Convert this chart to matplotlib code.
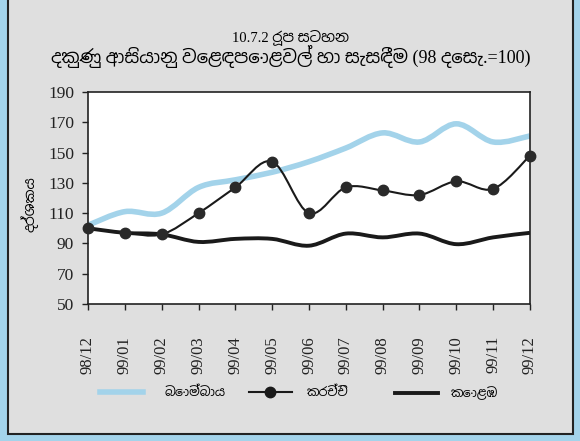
import numpy as np
import matplotlib
matplotlib.use("Agg")
import matplotlib.pyplot as plt
from matplotlib import font_manager
from matplotlib.path import Path
from matplotlib.patches import PathPatch, Rectangle
from matplotlib.lines import Line2D

# months and index values (Dec 1998 = 100)
months = ["98/12", "99/01", "99/02", "99/03", "99/04", "99/05", "99/06",
          "99/07", "99/08", "99/09", "99/10", "99/11", "99/12"]
bombay = [102, 111, 110, 127, 132, 137, 144, 153, 163, 157, 169, 157, 161]
karachi = [100, 97, 96, 110, 127, 144, 110, 127, 125, 122, 131, 126, 148]
colombo = [100, 97, 96, 91, 93, 93, 88.5, 96.5, 94, 96.5, 89.5, 94, 97]

names = ["බොම්බාය", "කරච්චි", "කොළඹ"]
title1 = "10.7.2 රූප සටහන"
title2 = "දකුණු ආසියානු වෙළඳපොළවල් හා සැසඳීම (98 දෙසැ.=100)"
ylabel = "දර්ශකය"

# pick a font that can show Sinhala if one is installed
sin_fonts = [f.name for f in font_manager.fontManager.ttflist if "Sinhala" in f.name]
fams = ["Liberation Serif"] + sin_fonts[:1] + ["DejaVu Sans"]
plt.rcParams["font.family"] = fams

blue = "#a3d3ea"
dark = "#1a1a1a"


def smooth_path(x, y):
    # catmull-rom curve turned into cubic bezier segments
    pts = np.column_stack([x, y]).astype(float)
    verts = [pts[0]]
    codes = [Path.MOVETO]
    n = len(pts)
    for i in range(n - 1):
        p0 = pts[max(i - 1, 0)]
        p1 = pts[i]
        p2 = pts[i + 1]
        p3 = pts[min(i + 2, n - 1)]
        verts += [p1 + (p2 - p0) / 6, p2 - (p3 - p1) / 6, p2]
        codes += [Path.CURVE4] * 3
    return Path(verts, codes)


fig = plt.figure(figsize=(5.8, 4.41), dpi=100)
fig.patch.set_facecolor(blue)
fig.patches.append(Rectangle((8 / 580, 7 / 441), 565 / 580, 440 / 441,
                             transform=fig.transFigure, facecolor="#dfdfdf",
                             edgecolor="#222222", linewidth=1.5, zorder=-1))

ax = fig.add_axes([88 / 580, 1 - 304 / 441, 442 / 580, 212 / 441])
ax.set_zorder(1)
x = np.arange(len(months))

ax.add_patch(PathPatch(smooth_path(x, bombay), fill=False, edgecolor=blue,
                       linewidth=4, capstyle="butt", zorder=2))
ax.add_patch(PathPatch(smooth_path(x, colombo), fill=False, edgecolor=dark,
                       linewidth=2.8, zorder=3))
ax.add_patch(PathPatch(smooth_path(x, karachi), fill=False, edgecolor=dark,
                       linewidth=1.5, zorder=4))
ax.plot(x, karachi, linestyle="none", marker="o", markersize=7.5,
        color="#2a2a2a", zorder=5, clip_on=False)

ax.set_xlim(0, len(months) - 1)
ax.set_ylim(50, 190)
ax.set_yticks(range(50, 191, 20))
ax.set_xticks(x)
ax.set_xticklabels(months, rotation=90)
ax.tick_params(axis="both", direction="out", length=4, width=1, labelsize=12.5,
               colors="#222222")
ax.tick_params(axis="y", pad=6)
ax.tick_params(axis="x", pad=19, labelsize=12)
for s in ax.spines.values():
    s.set_linewidth(1.2)
    s.set_color("#222222")
ax.set_ylabel(ylabel, fontsize=10)
ax.yaxis.set_label_coords(-0.113, 0.47)

fig.text(0.5, 1 - 37 / 441, title1, ha="center", va="center", fontsize=10.5)
fig.text(0.502, 1 - 57 / 441, title2, ha="center", va="center", fontsize=13)

# one legend per entry so each sits where it belongs
entries = [
    (Line2D([], [], color=blue, linewidth=4), names[0], 100, 1.8),
    (Line2D([], [], color=dark, linewidth=1.5, marker="o", markersize=7.5),
     names[1], 249, 1.2),
    (Line2D([], [], color=dark, linewidth=2.8), names[2], 395, 1.1),
]
for h, lab, x0, gap in entries:
    leg = fig.legend([h], [lab], loc="center left",
                     bbox_to_anchor=(x0 / 580, 1 - 393 / 441),
                     frameon=False, fontsize=9, handlelength=3.4,
                     handletextpad=gap, borderpad=0, borderaxespad=0)

fig.savefig("out.png", dpi=100)
